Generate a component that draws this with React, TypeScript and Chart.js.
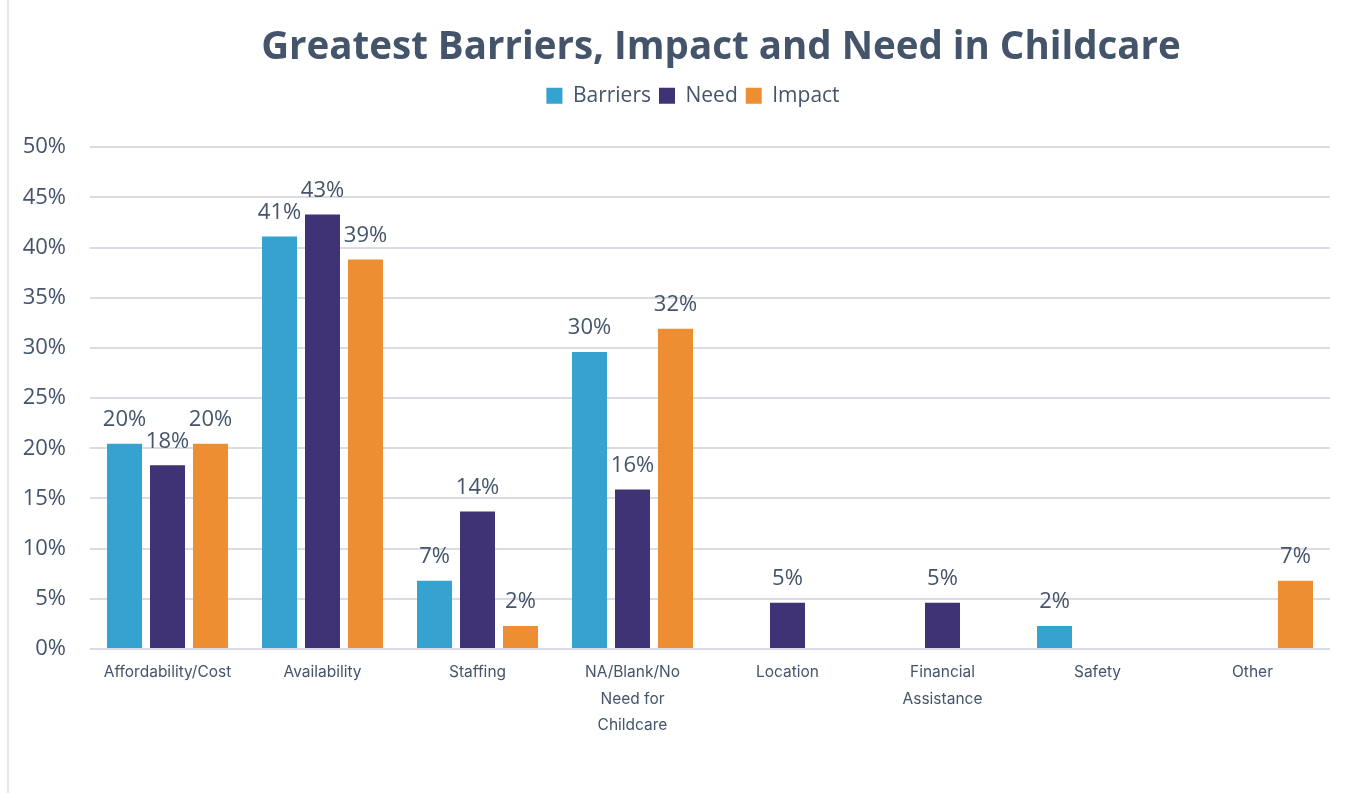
import React, { useEffect, useRef } from "react";
import { Chart, registerables } from "chart.js";

Chart.register(...registerables);

const categories: (string | string[])[] = [
  "Affordability/Cost",
  "Availability",
  "Staffing",
  ["NA/Blank/No", "Need for", "Childcare"],
  "Location",
  ["Financial", "Assistance"],
  "Safety",
  "Other",
];

const barriers: (number | null)[] = [20.45, 41.1, 6.8, 29.6, null, null, 2.3, null];
const need: (number | null)[] = [18.3, 43.3, 13.7, 15.9, 4.6, 4.6, null, null];
const impact: (number | null)[] = [20.45, 38.8, 2.3, 31.9, null, null, null, 6.8];

const yTicks = [0, 5, 10, 15, 20, 25, 30, 35, 40, 45, 50];

const TEXT = "#44546A";

const labelPlugin = {
  id: "barLabels",
  afterDatasetsDraw(chart: any) {
    const ctx = chart.ctx;
    ctx.save();
    ctx.font = "22px 'Open Sans', Lato, sans-serif";
    ctx.fillStyle = TEXT;
    ctx.textAlign = "center";
    ctx.textBaseline = "bottom";
    chart.data.datasets.forEach((ds: any, i: number) => {
      const meta = chart.getDatasetMeta(i);
      meta.data.forEach((bar: any, j: number) => {
        const v = ds.data[j];
        if (v === null || v === undefined) return;
        ctx.fillText(Math.round(v) + "%", bar.x, bar.y - 13);
      });
    });
    ctx.restore();
  },
};

const layoutTweaks = {
  id: "layoutTweaks",
  beforeLayout(chart: any) {
    const lg = chart.legend;
    if (lg && !lg._spacerPatched) {
      const orig = lg.fit.bind(lg);
      lg.fit = function () {
        orig();
        this.height += 31;
      };
      lg._spacerPatched = true;
    }
  },
  afterLayout(chart: any) {
    const tb = chart.titleBlock;
    if (tb) {
      tb.left += 56;
      tb.right += 56;
    }
    const lg = chart.legend;
    if (lg) {
      lg.left += 28;
      lg.right += 28;
    }
  },
};

export default function App() {
  const ref = useRef<HTMLCanvasElement>(null);
  useEffect(() => {
    if (!ref.current) return;
    const chart = new Chart(ref.current, {
      type: "bar",
      data: {
        labels: categories,
        datasets: [
          { label: "Barriers", data: barriers, backgroundColor: "#36A2D0" },
          { label: "Need", data: need, backgroundColor: "#3F3275" },
          { label: "Impact", data: impact, backgroundColor: "#EC8E31" },
        ],
      },
      options: {
        animation: false,
        responsive: false,
        maintainAspectRatio: false,
        layout: { padding: { left: 0, right: 16, top: 0, bottom: 52 } },
        datasets: {
          bar: { barPercentage: 0.814, categoryPercentage: 0.832 },
        },
        plugins: {
          title: {
            display: true,
            text: "Greatest Barriers, Impact and Need in Childcare",
            color: TEXT,
            font: { family: "'Open Sans', Lato, sans-serif", size: 38.5, weight: "bold" },
            padding: { top: 25, bottom: 6 },
          },
          legend: {
            display: true,
            labels: {
              color: TEXT,
              boxWidth: 16,
              boxHeight: 16,
              padding: 8,
              font: { family: "'Open Sans', Lato, sans-serif", size: 21 },
            },
          },
          tooltip: { enabled: false },
        },
        scales: {
          x: {
            grid: { display: false },
            border: { display: false },
            ticks: {
              color: TEXT,
              font: { family: "Inter, Lato, sans-serif", size: 15.5, lineHeight: 1.72 },
              padding: 2,
              maxRotation: 0,
              autoSkip: false,
            },
          },
          y: {
            min: 0,
            max: 50,
            afterBuildTicks: (axis: any) => {
              axis.ticks = yTicks.map((v) => ({ value: v }));
            },
            afterFit: (axis: any) => {
              axis.width = 90;
            },
            grid: { color: "#D9DDE3", lineWidth: 2, drawTicks: false },
            border: { display: false },
            ticks: {
              color: TEXT,
              font: { family: "'Open Sans', Lato, sans-serif", size: 22 },
              padding: 24,
              callback: (v: any) => v + "%",
            },
          },
        },
      },
      plugins: [labelPlugin, layoutTweaks],
    });
    return () => chart.destroy();
  }, []);
  return (
    <div style={{ position: "fixed", left: 0, top: 0, width: 1346, height: 793, background: "#fff" }}>
      <div style={{ position: "absolute", left: 7, top: 0, width: 2, height: 793, background: "#E3E7EC" }} />
      <canvas ref={ref} width={1346} height={793} style={{ position: "absolute", left: 0, top: 0 }} />
    </div>
  );
}
